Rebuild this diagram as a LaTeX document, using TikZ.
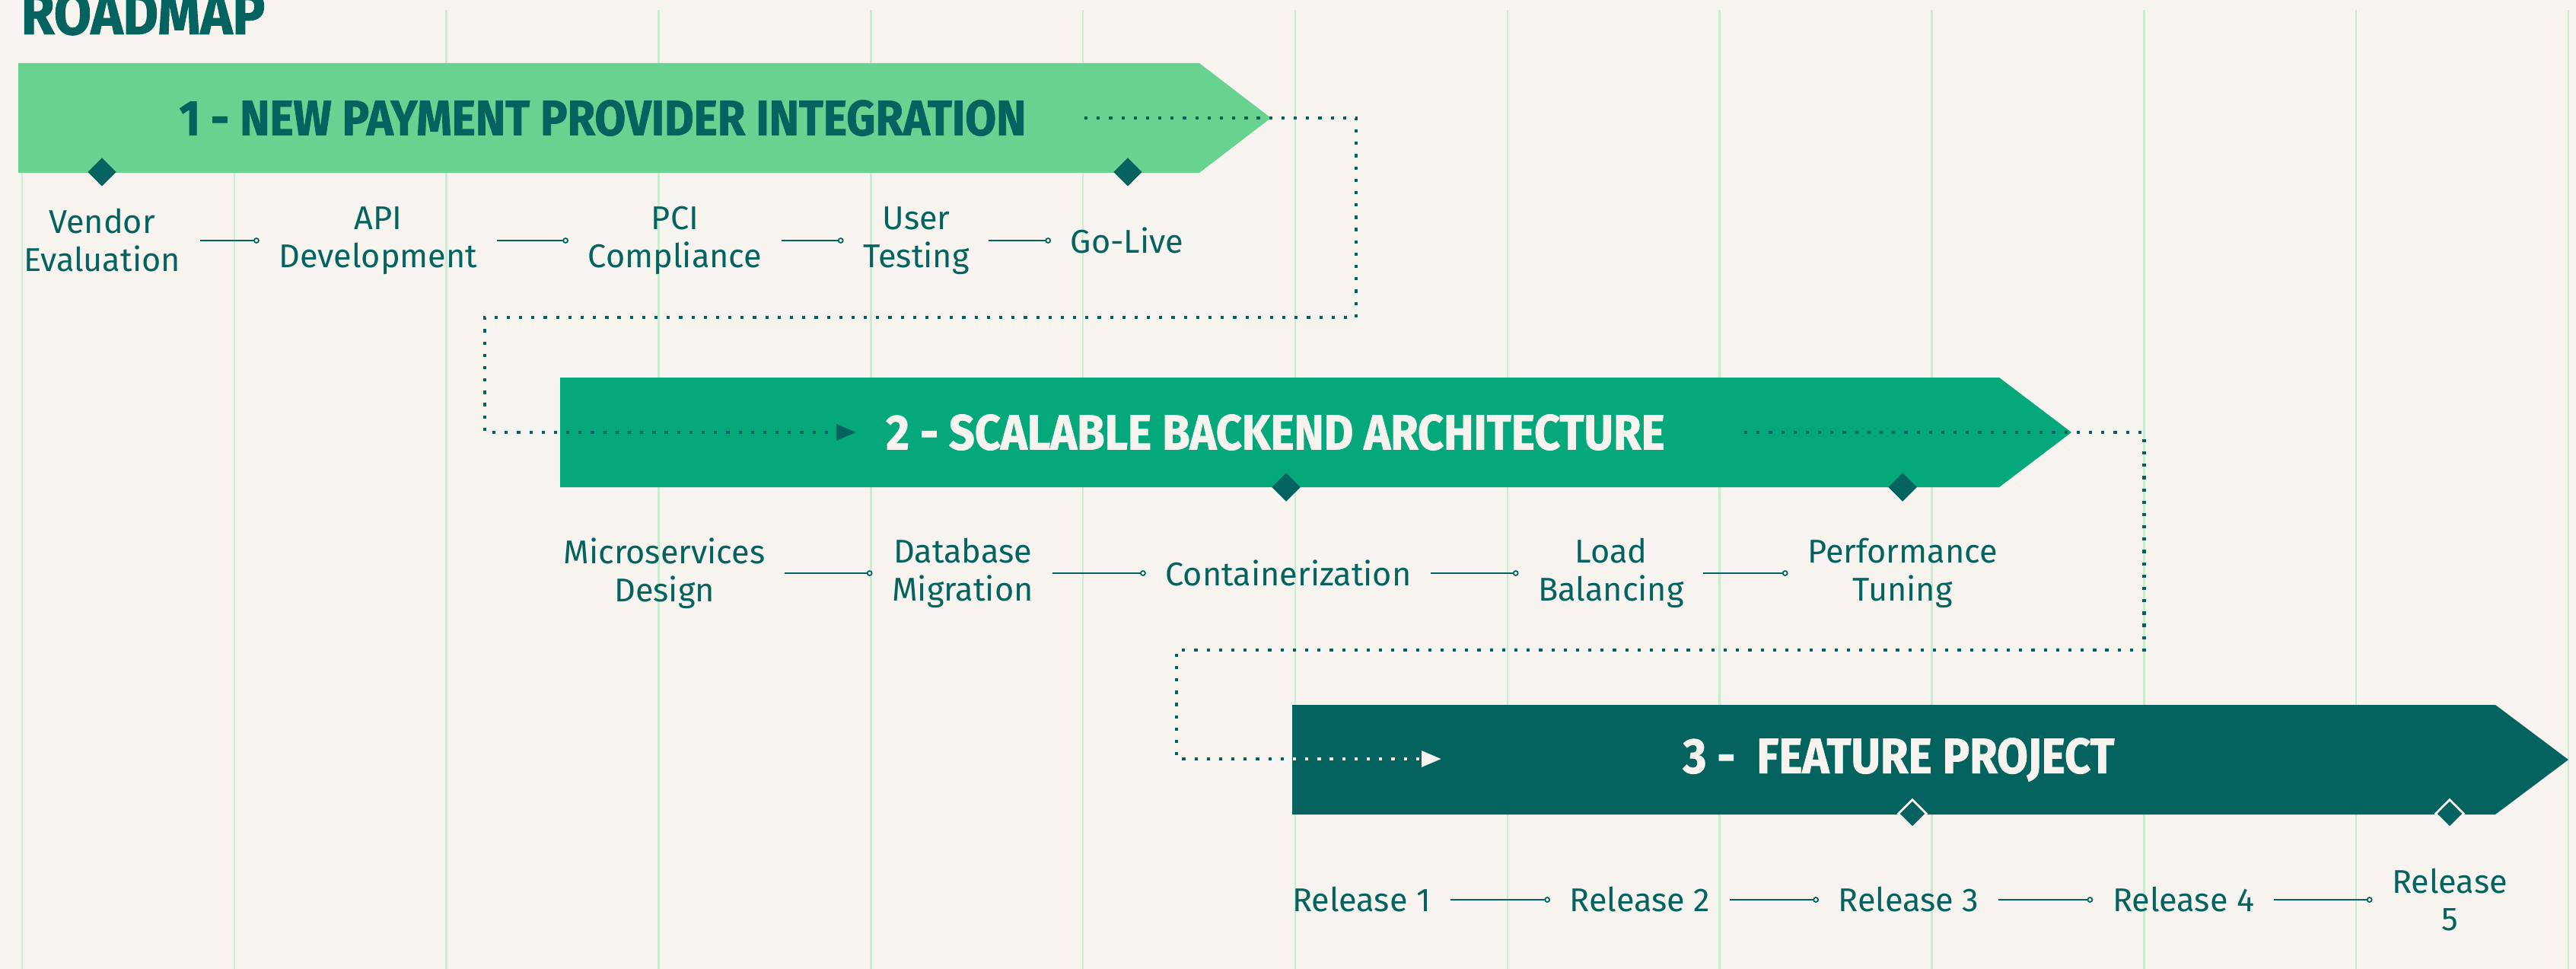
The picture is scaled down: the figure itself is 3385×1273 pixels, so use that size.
\documentclass[tikz,border=0pt]{standalone}
\usepackage{fontspec}
\setmainfont{Fira Sans}
\newfontfamily\headfont{Fira Sans}[FakeStretch=0.91, FakeBold=1.2]
\usetikzlibrary{shapes.geometric, arrows.meta}

\definecolor{paper}{HTML}{F7F3EE}
\definecolor{gridgreen}{HTML}{C8EDD2}
\definecolor{mint}{HTML}{68D391}
\definecolor{jade}{HTML}{05A87A}
\definecolor{deepteal}{HTML}{05635F}

\tikzset{
  task/.style={align=center, text=deepteal, inner xsep=0.25cm, inner ysep=0pt,
    font=\fontsize{12.3}{14.2}\selectfont},
  link/.style={deepteal, line width=0.6pt,
    -{Circle[open, length=2.2pt, width=2.2pt, fill=paper, line width=0.5pt]}},
  milestone/.style={diamond, fill=deepteal, inner sep=0pt,
    minimum width=0.38cm, minimum height=0.38cm},
  phasetitle/.style={font=\headfont\bfseries\fontsize{18.5}{20}\selectfont},
  flow/.style={deepteal, line width=1.4pt, dash pattern=on 1.2pt off 3.4pt,
    -{Triangle[length=7.4pt, width=5.8pt]}},
}

\begin{document}
\begin{tikzpicture}[x=0.01cm, y=-0.01cm]
        \useasboundingbox (0,0) rectangle (3385,1273);
        \fill[paper] (0,0) rectangle (3385,1273);

        % time grid
        \foreach \k in {0,...,12}{
            \pgfmathsetmacro\gx{29+278.83*\k}
            \pgfmathsetmacro\gtop{\k<2 ? 83 : 13}
            \draw[gridgreen, line width=0.7pt] (\gx,\gtop) -- (\gx,1273);
        }

        \node[anchor=base west, inner sep=0pt, text=deepteal,
            font=\headfont\bfseries\fontsize{22.3}{24}\selectfont] (heading) at (27,45) {ROADMAP};

        % phase arrows
        \fill[mint] (24,83) -- (1576,83) -- (1670,155) -- (1576,227) -- (24,227) -- cycle;
        \fill[jade] (736,496) -- (2627,496) -- (2722,568) -- (2627,640) -- (736,640) -- cycle;
        \fill[deepteal] (1698,926) -- (3279,926) -- (3375,998) -- (3279,1070) -- (1698,1070) -- cycle;

        \node[phasetitle, text=deepteal] (phase1) at (792,155) {1 - NEW PAYMENT PROVIDER INTEGRATION};
        \node[phasetitle, text=paper] (phase2) at (1676,568) {2 - SCALABLE BACKEND ARCHITECTURE};
        \node[phasetitle, text=paper] (phase3) at (2495,998) {3 -\ \ FEATURE PROJECT};

        \node[milestone] (m11) at (134,226) {};
        \node[milestone] (m12) at (1482,226) {};
        \node[milestone] (m21) at (1690,640) {};
        \node[milestone] (m22) at (2500,640) {};
        \node[milestone, draw=paper, line width=0.8pt] (m31) at (2513,1069) {};
        \node[milestone, draw=paper, line width=0.8pt] (m32) at (3219,1069) {};

        % hand-over between phases
        \coordinate (out1) at (1425,155);
        \coordinate (bend1) at (1782,417);
        \coordinate (bend2) at (637,568);
        \coordinate (in2) at (1125,568);
        \draw[flow] (out1) -| (bend1) -| (bend2) -- (in2);

        \coordinate (out2) at (2292,568);
        \coordinate (bend3) at (2817,854);
        \coordinate (bend4) at (1546,997);
        \coordinate (in3) at (1894,997);
        \draw[flow, -] (out2) -| (bend3) -| (bend4) -- (in3);
        \begin{scope}
            \clip (1698,926) rectangle (3279,1070);
            \draw[flow, paper] (out2) -| (bend3) -| (bend4) -- (in3);
        \end{scope}

        % tasks of phase 1
        \node[task] (vendor) at (134,316) {Vendor\\Evaluation};
        \node[task] (api) at (497,316) {API\\Development};
        \node[task] (pci) at (887,316) {PCI\\Compliance};
        \node[task] (usertest) at (1204,316) {User\\Testing};
        \node[task] (golive) at (1481,316) {Go-Live};
        \draw[link] (vendor) -- (api);
        \draw[link] (api) -- (pci);
        \draw[link] (pci) -- (usertest);
        \draw[link] (usertest) -- (golive);

        % tasks of phase 2
        \node[task] (micro) at (873,753) {Microservices\\Design};
        \node[task] (dbmig) at (1265,753) {Database\\Migration};
        \node[task] (contain) at (1693,753) {Containerization};
        \node[task] (loadbal) at (2117,753) {Load\\Balancing};
        \node[task] (perf) at (2500,753) {Performance\\Tuning};
        \draw[link] (micro) -- (dbmig);
        \draw[link] (dbmig) -- (contain);
        \draw[link] (contain) -- (loadbal);
        \draw[link] (loadbal) -- (perf);

        % releases of phase 3
        \node[task] (rel1) at (1789,1182) {Release 1};
        \node[task] (rel2) at (2155,1182) {Release 2};
        \node[task] (rel3) at (2508,1182) {Release 3};
        \node[task] (rel4) at (2869,1182) {Release 4};
        \node[task] (rel5) at (3219,1182) {Release\\5};
        \draw[link] (rel1) -- (rel2);
        \draw[link] (rel2) -- (rel3);
        \draw[link] (rel3) -- (rel4);
        \draw[link] (rel4) -- (rel5);
\end{tikzpicture}
\end{document}
